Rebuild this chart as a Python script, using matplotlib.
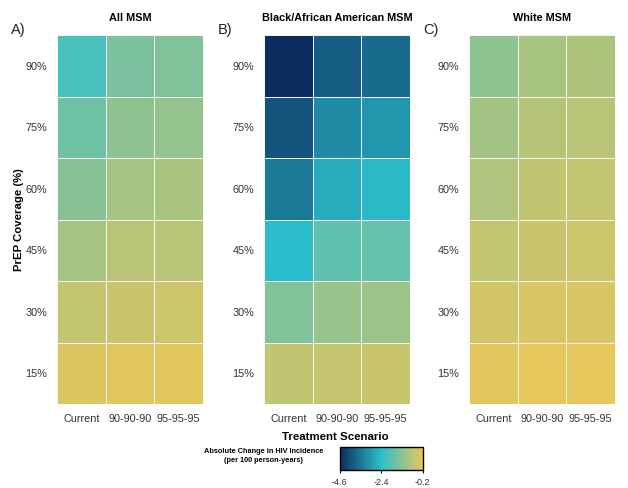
import numpy as np
import matplotlib
matplotlib.use("Agg")
import matplotlib.pyplot as plt
from matplotlib.colors import LinearSegmentedColormap

plt.rcParams["font.family"] = ["Liberation Sans", "DejaVu Sans"]
plt.rcParams["axes.unicode_minus"] = False

scenarios = ["Current", "90-90-90", "95-95-95"]
coverage = ["15%", "30%", "45%", "60%", "75%", "90%"]

# rows: 15% -> 90%, cols: Current, 90-90-90, 95-95-95
all_msm = [
    [-0.34, -0.30, -0.28],
    [-0.62, -0.55, -0.52],
    [-0.99, -0.76, -0.74],
    [-1.32, -0.99, -0.95],
    [-1.62, -1.27, -1.18],
    [-2.06, -1.50, -1.41],
]
black_msm = [
    [-0.67, -0.60, -0.57],
    [-1.39, -1.13, -1.08],
    [-2.45, -1.83, -1.74],
    [-3.43, -2.69, -2.50],
    [-4.00, -3.19, -3.01],
    [-4.60, -3.85, -3.64],
]
white_msm = [
    [-0.27, -0.22, -0.22],
    [-0.46, -0.39, -0.38],
    [-0.64, -0.55, -0.52],
    [-0.84, -0.66, -0.63],
    [-1.02, -0.79, -0.74],
    [-1.24, -0.97, -0.88],
]

panels = [("A)", "All MSM", all_msm), ("B)", "Black/African American MSM", black_msm), ("C)", "White MSM", white_msm)]

vmin, vmax = -4.6, -0.2
cmap = LinearSegmentedColormap.from_list("hiv", ["#0b2c5e", "#2bbfcc", "#e8c65a"])

fig = plt.figure(figsize=(6.28, 4.88), dpi=100)
lefts = [0.0908, 0.4204, 0.7468]
for left, (tag, title, vals) in zip(lefts, panels):
    ax = fig.add_axes([left, 0.172, 0.2325, 0.756])
    mesh = ax.pcolormesh(np.array(vals), cmap=cmap, vmin=vmin, vmax=vmax,
                         edgecolors="#f4f4f0", linewidth=0.5)
    ax.set_xticks(np.arange(len(scenarios)) + 0.5)
    ax.set_xticklabels(scenarios, fontsize=7.8, color="#333333")
    ax.set_yticks(np.arange(len(coverage)) + 0.5)
    ax.set_yticklabels(coverage, fontsize=7.8, color="#333333")
    ax.tick_params(length=0, pad=7)
    for s in ax.spines.values():
        s.set_visible(False)
    ax.set_title(title, fontsize=7.8, fontweight="bold", pad=10)
    fig.text(left - 0.073, 0.938, tag, fontsize=10.5, va="center", color="#222222")

fig.text(0.030, 0.55, "PrEP Coverage (%)", rotation=90, fontsize=8.2, fontweight="bold",
         ha="center", va="center")
fig.text(0.534, 0.104, "Treatment Scenario", fontsize=8.2, fontweight="bold", ha="center", va="center")

cax = fig.add_axes([0.541, 0.037, 0.132, 0.047])
cb = fig.colorbar(mesh, cax=cax, orientation="horizontal", ticks=[-4.6, -2.4, -0.2])
cb.ax.tick_params(labelsize=6.5, length=2, labelcolor="#333333")
cb.outline.set_linewidth(1)
fig.text(0.42, 0.066, "Absolute Change in HIV Incidence\n(per 100 person-years)", fontsize=5.3,
         fontweight="bold", ha="center", va="center", linespacing=1.3)

fig.savefig("out.png", dpi=100)
